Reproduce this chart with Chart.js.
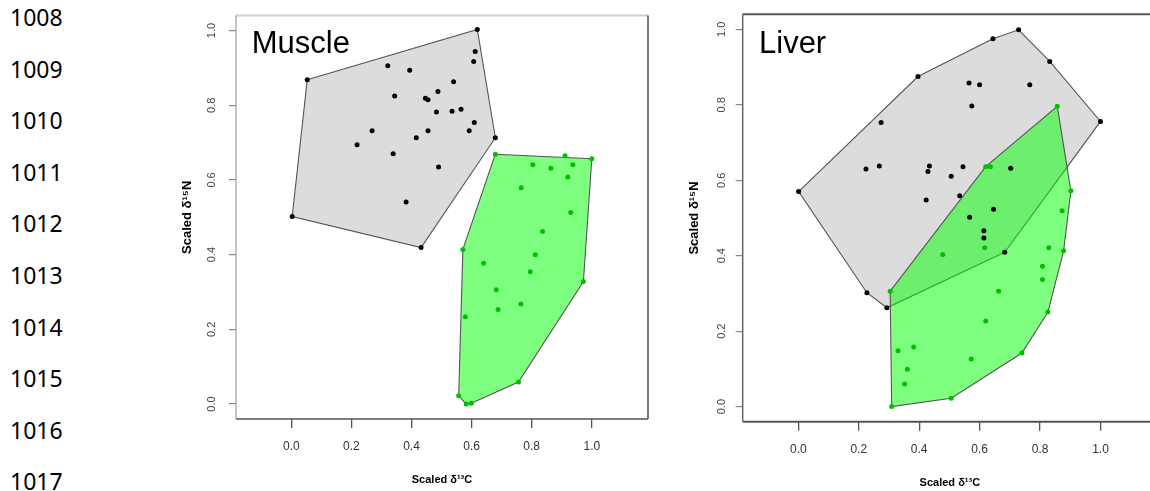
<!DOCTYPE html>
<html><head><meta charset="utf-8">
<script src="https://cdn.jsdelivr.net/npm/chart.js@4.4.0/dist/chart.umd.min.js"></script>
<style>
html,body{margin:0;padding:0;width:1150px;height:491px;overflow:hidden;background:#fff;}
.ln{position:absolute;left:10px;font-family:"Noto Sans","Liberation Sans",sans-serif;font-size:23px;line-height:23px;color:#000;}
#c1{position:absolute;left:160px;top:0;}
#c2{position:absolute;left:680px;top:0;}
</style></head><body>
<div id="lines"></div>
<canvas id="c1" width="500" height="491"></canvas>
<canvas id="c2" width="500" height="491"></canvas>
<script>
// ---- data ----
const lineNumbers = ['1008','1009','1010','1011','1012','1013','1014','1015','1016','1017'];
const panelNames = ['Muscle', 'Liver'];
const xTickValues = [0, 0.2, 0.4, 0.6, 0.8, 1.0];
const yTickValues = [0, 0.2, 0.4, 0.6, 0.8, 1.0];
const xTitle = 'Scaled δ¹³C';
const yTitle = 'Scaled δ¹⁵N';

const muscleBlackX = [0.053,0.619,0.612,0.607,0.321,0.394,0.540,0.488,0.344,0.446,0.455,0.483,0.535,0.565,0.609,0.592,0.269,0.455,0.416,0.679,0.219,0.339,0.490,0.382,0.003,0.432];
const muscleBlackY = [0.868,1.003,0.944,0.917,0.906,0.894,0.863,0.837,0.825,0.819,0.815,0.782,0.784,0.789,0.754,0.732,0.732,0.732,0.713,0.713,0.694,0.670,0.635,0.541,0.502,0.419];
const muscleBlackHullX = [0.053,0.619,0.679,0.432,0.003];
const muscleBlackHullY = [0.868,1.003,0.713,0.419,0.502];

const muscleGreenX = [0.679,0.804,0.864,0.911,0.937,1.000,0.920,0.765,0.930,0.836,0.571,0.812,0.640,0.795,0.972,0.682,0.764,0.688,0.579,0.756,0.557,0.582,0.599];
const muscleGreenY = [0.669,0.641,0.631,0.665,0.641,0.657,0.608,0.579,0.513,0.462,0.414,0.400,0.377,0.354,0.328,0.306,0.268,0.253,0.234,0.059,0.022,0.000,0.002];
const muscleGreenHullX = [0.679,1.000,0.972,0.756,0.599,0.582,0.557,0.571];
const muscleGreenHullY = [0.669,0.657,0.328,0.059,0.002,0.000,0.022,0.414];

const liverBlackX = [0.001,0.224,0.268,0.274,0.396,0.423,0.429,0.434,0.644,0.729,0.832,1.000,0.565,0.600,0.766,0.574,0.506,0.545,0.534,0.703,0.646,0.567,0.614,0.614,0.683,0.227,0.293];
const liverBlackY = [0.570,0.630,0.638,0.753,0.875,0.548,0.623,0.638,0.975,0.999,0.915,0.756,0.858,0.853,0.853,0.797,0.611,0.636,0.559,0.632,0.523,0.502,0.466,0.447,0.409,0.302,0.262];
const liverBlackHullX = [0.001,0.396,0.644,0.729,0.832,1.000,0.683,0.293,0.227];
const liverBlackHullY = [0.570,0.875,0.975,0.999,0.915,0.756,0.409,0.262,0.302];

const liverGreenX = [0.857,0.620,0.636,0.902,0.873,0.617,0.829,0.304,0.309,0.478,0.878,0.808,0.808,0.663,0.620,0.826,0.740,0.572,0.382,0.330,0.361,0.352,0.506];
const liverGreenY = [0.796,0.636,0.636,0.572,0.519,0.421,0.421,0.306,0.000,0.403,0.413,0.372,0.337,0.306,0.227,0.251,0.142,0.126,0.158,0.148,0.099,0.060,0.022];
const liverGreenHullX = [0.304,0.620,0.857,0.902,0.878,0.826,0.740,0.506,0.309];
const liverGreenHullY = [0.306,0.636,0.796,0.572,0.413,0.251,0.142,0.022,0.000];

// ---- line numbers ----
const lnBox = document.getElementById('lines');
lineNumbers.forEach((t, i) => {
  const d = document.createElement('div');
  d.className = 'ln';
  d.style.top = (6 + i * 51.6) + 'px';
  d.textContent = t;
  lnBox.appendChild(d);
});

// ---- plugins ----
const hullPlugin = {
  id: 'hulls',
  beforeDatasetsDraw(chart, args, opts) {
    const {ctx, chartArea, scales: {x, y}} = chart;
    ctx.save();
    ctx.beginPath();
    ctx.rect(chartArea.left, chartArea.top, chartArea.width, chartArea.height);
    ctx.clip();
    for (const p of opts.polys) {
      ctx.beginPath();
      p.xs.forEach((v, i) => {
        const px = x.getPixelForValue(v), py = y.getPixelForValue(p.ys[i]);
        if (i) ctx.lineTo(px, py); else ctx.moveTo(px, py);
      });
      ctx.closePath();
      ctx.fillStyle = p.fill;
      ctx.fill();
      ctx.lineWidth = p.lw;
      ctx.strokeStyle = p.stroke;
      ctx.stroke();
    }
    ctx.restore();
  }
};
const framePlugin = {
  id: 'frame',
  afterDraw(chart, args, opts) {
    const {ctx, chartArea: a} = chart;
    ctx.save();
    const side = (s, x1, y1, x2, y2) => {
      if (!s) return;
      ctx.beginPath(); ctx.strokeStyle = s[0]; ctx.lineWidth = s[1];
      ctx.moveTo(x1, y1); ctx.lineTo(x2, y2); ctx.stroke();
    };
    side(opts.top, a.left, a.top, a.right, a.top);
    side(opts.right, a.right, a.top, a.right, a.bottom);
    side(opts.bottom, a.left, a.bottom, a.right, a.bottom);
    side(opts.left, a.left, a.top, a.left, a.bottom);
    ctx.fillStyle = '#000';
    ctx.font = '31px "Liberation Sans", Arial, sans-serif';
    ctx.textBaseline = 'alphabetic';
    ctx.textAlign = 'left';
    ctx.fillText(opts.label, a.left + opts.lx, a.top + opts.ly);
    ctx.restore();
  }
};

function pts(xs, ys) { return xs.map((v, i) => ({x: v, y: ys[i]})); }

function makeChart(id, cfg) {
  return new Chart(document.getElementById(id), {
    type: 'scatter',
    data: {
      datasets: [
        {data: pts(cfg.bx, cfg.by), backgroundColor: '#000', borderWidth: 0, pointRadius: 2.5},
        {data: pts(cfg.gx, cfg.gy), backgroundColor: '#00c000', borderWidth: 0, pointRadius: 2.5}
      ]
    },
    options: {
      responsive: false,
      animation: false,
      events: [],
      layout: {padding: {top: cfg.padTop, right: cfg.padRight, left: 0, bottom: 0}},
      plugins: {
        legend: {display: false},
        tooltip: {enabled: false},
        hulls: {polys: [
          {xs: cfg.bhx, ys: cfg.bhy, fill: '#dcdcdc', stroke: '#555', lw: 1.1},
          {xs: cfg.ghx, ys: cfg.ghy, fill: 'rgba(0,255,0,0.5)', stroke: '#555', lw: 1.1}
        ]},
        frame: cfg.frame
      },
      scales: {
        x: {
          type: 'linear', min: -0.184, max: 1.187,
          afterFit: s => { s.height = cfg.xH; },
          afterBuildTicks: s => { s.ticks = xTickValues.map(v => ({value: v})); },
          grid: {drawOnChartArea: false, drawTicks: true, tickLength: 9, color: '#555', lineWidth: 1.3},
          border: {display: false},
          ticks: {font: {family: '"Liberation Sans", Arial', size: 12}, color: '#333', padding: cfg.xTickPad,
                  maxRotation: 0, minRotation: 0, callback: v => v.toFixed(1)},
          title: {display: true, text: xTitle, font: {family: '"Liberation Sans", Arial', size: 11, weight: 'bold'},
                  color: '#000', padding: {top: 0, bottom: cfg.xTitlePad}}
        },
        y: {
          type: 'linear', min: -0.04, max: 1.04,
          afterFit: s => { s.width = cfg.yW; },
          afterBuildTicks: s => { s.ticks = yTickValues.map(v => ({value: v})); },
          grid: {drawOnChartArea: false, drawTicks: true, tickLength: 7, color: '#888', lineWidth: 1.2},
          border: {display: false},
          ticks: {font: {family: '"Liberation Sans", Arial', size: 11}, color: '#444', padding: cfg.yTickPad,
                  minRotation: 90, maxRotation: 90, crossAlign: 'center', callback: v => v.toFixed(1)},
          title: {display: true, text: yTitle, font: {family: '"Liberation Sans", Arial', size: 13, weight: 'bold'},
                  color: '#000', padding: {top: cfg.yTitlePad, bottom: 0}}
        }
      }
    },
    plugins: [hullPlugin, framePlugin]
  });
}

makeChart('c1', {
  bx: muscleBlackX, by: muscleBlackY, gx: muscleGreenX, gy: muscleGreenY,
  bhx: muscleBlackHullX, bhy: muscleBlackHullY, ghx: muscleGreenHullX, ghy: muscleGreenHullY,
  padTop: 11, padRight: 12, xH: 72, yW: 76, xTickPad: 11, xTitlePad: 4.4, yTickPad: 9, yTitlePad: 19.2,
  frame: {top: ['#cfcfcf', 2], right: ['#777', 2], bottom: ['#555', 1.5], left: ['#999', 1.2],
          label: panelNames[0], lx: 15.7, ly: 37.3}
});
makeChart('c2', {
  bx: liverBlackX, by: liverBlackY, gx: liverGreenX, gy: liverGreenY,
  bhx: liverBlackHullX, bhy: liverBlackHullY, ghx: liverGreenHullX, ghy: liverGreenHullY,
  padTop: 14.3, padRight: 23, xH: 69.3, yW: 62.7, xTickPad: 12, xTitlePad: 1.1, yTickPad: 6, yTitlePad: 6.7,
  frame: {top: ['#555', 2], right: ['#555', 2], bottom: ['#555', 2], left: ['#666', 1.5],
          label: panelNames[1], lx: 16.3, ly: 38.4}
});
</script>
</body></html>
